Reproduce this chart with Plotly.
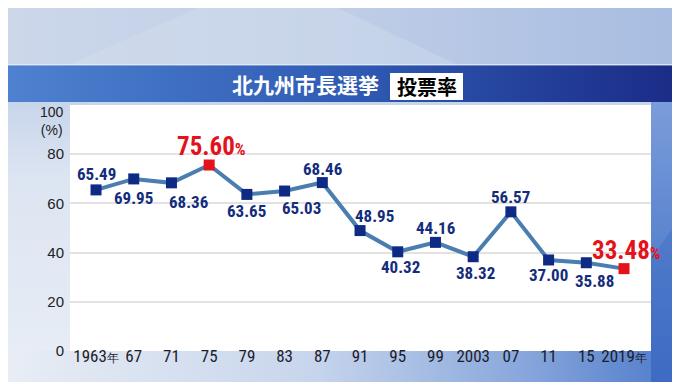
import base64
import plotly.graph_objects as go

# ---- data ----
years = [1963, 1967, 1971, 1975, 1979, 1983, 1987, 1991, 1995, 1999, 2003, 2007, 2011, 2015, 2019]
turnout = [65.49, 69.95, 68.36, 75.60, 63.65, 65.03, 68.46, 48.95, 40.32, 44.16, 38.32, 56.57, 37.00, 35.88, 33.48]
x_tick_labels = ["1963年", "67", "71", "75", "79", "83", "87", "91", "95", "99", "2003", "07", "11", "15", "2019年"]
y_ticks = [0, 20, 40, 60, 80]
highlight_years = [1975, 2019]
title_main = "北九州市長選挙"
title_box = "投票率"

# ---- styles ----
W, H = 680, 382
L, R, T, B = 62, 643, 97, 343
NAVY = "#0f2a85"
LABEL = "#142c7c"
RED = "#e3121b"
LINE = "#4a7db0"
NUM_FONT = "Liberation Sans Narrow, Roboto Condensed, Arial Narrow, Roboto, sans-serif"
# label offsets (dx, dy in px relative to marker)
label_offsets = [(0, -16), (0, 19), (17, 19), (2, -19), (0, 17), (17, 17), (0, -14),
                 (14, -15), (3, 15), (0, -14), (2, 16), (0, -15), (0, 15), (8, 18), (2, -18)]

def px(x):
    return (x - L) / (R - L)

def py(y):
    return (B - y) / (B - T)

svg = f'''<svg xmlns="http://www.w3.org/2000/svg" width="{W}" height="{H}" viewBox="0 0 {W} {H}">
<defs>
<linearGradient id="top" x1="0" y1="0" x2="1" y2="0">
<stop offset="0" stop-color="#ccd7ea"/><stop offset="0.5" stop-color="#bfcde7"/><stop offset="1" stop-color="#a7bce1"/></linearGradient>
<linearGradient id="left" x1="0" y1="0" x2="0" y2="1">
<stop offset="0" stop-color="#adc2e3"/><stop offset="0.45" stop-color="#dde5f2"/><stop offset="1" stop-color="#e9eef6"/></linearGradient>
<linearGradient id="bot" x1="0" y1="0" x2="1" y2="0">
<stop offset="0" stop-color="#e8edf5"/><stop offset="0.45" stop-color="#c7d5ec"/><stop offset="0.75" stop-color="#8aa8dc"/><stop offset="1" stop-color="#4a78c9"/></linearGradient>
<linearGradient id="right" x1="0" y1="0" x2="0" y2="1">
<stop offset="0" stop-color="#7b9cda"/><stop offset="0.5" stop-color="#5a84cf"/><stop offset="1" stop-color="#3f6cc4"/></linearGradient>
<linearGradient id="band" x1="0" y1="0" x2="1" y2="0">
<stop offset="0" stop-color="#4e82d0"/><stop offset="0.5" stop-color="#2f5bb4"/><stop offset="1" stop-color="#1a2a85"/></linearGradient>
</defs>
<rect x="0" y="0" width="{W}" height="{H}" fill="url(#left)"/>
<rect x="0" y="0" width="{W}" height="57" fill="url(#top)"/>
<polygon points="60,57 190,0 330,0 450,57" fill="#d8e1ef" opacity="0.35"/>
<rect x="0" y="{B}" width="{W}" height="{H-B}" fill="url(#bot)"/>
<rect x="{R}" y="94" width="{W-R}" height="{H-94}" fill="url(#right)"/>
<polygon points="{R},250 {W},200 {W},382 {R},382" fill="#3a66c0" opacity="0.35"/>
<rect x="0" y="57" width="{W}" height="37" fill="url(#band)"/>
<rect x="0" y="56" width="{W}" height="1.5" fill="#e6eefa" opacity="0.8"/>
<rect x="382" y="65" width="73" height="27" fill="#ffffff"/>
<rect x="{L}" y="{T}" width="{R-L}" height="{B-T}" fill="#ffffff"/>
</svg>'''
src = "data:image/svg+xml;base64," + base64.b64encode(svg.encode("utf-8")).decode("ascii")

colors = [RED if y in highlight_years else NAVY for y in years]

fig = go.Figure()
fig.add_trace(go.Scatter(
    x=years, y=turnout, mode="lines+markers",
    line=dict(color=LINE, width=4),
    marker=dict(symbol="square", size=11, color=colors, line=dict(width=0)),
    hoverinfo="skip", showlegend=False,
))

annotations = []
for yr, v, (dx, dy) in zip(years, turnout, label_offsets):
    if yr in highlight_years:
        txt = f"<b>{v:.2f}<span style='font-size:17px'>%</span></b>"
        font = dict(family=NUM_FONT, size=25, color=RED)
    else:
        txt = f"<b>{v:.2f}</b>"
        font = dict(family=NUM_FONT, size=17, color=LABEL)
    annotations.append(dict(x=yr, y=v, xref="x", yref="y", text=txt, showarrow=False,
                            xshift=dx, yshift=-dy, font=font, xanchor="center", yanchor="middle"))

# y-axis top label
annotations.append(dict(x=px(58), y=py(113), xref="paper", yref="paper", text="100<br>(%)", showarrow=False,
                        xanchor="right", yanchor="middle", align="center",
                        font=dict(family="Liberation Sans, Arial", size=14, color="#222")))
# title
annotations.append(dict(x=px(297), y=py(76), xref="paper", yref="paper", text=f"<b>{title_main}</b>", showarrow=False,
                        xanchor="center", yanchor="middle",
                        font=dict(family="Noto Sans CJK JP", size=21, color="white")))
annotations.append(dict(x=px(418.5), y=py(78.5), xref="paper", yref="paper", text=f"<b>{title_box}</b>", showarrow=False,
                        xanchor="center", yanchor="middle",
                        font=dict(family="Noto Sans CJK JP", size=20, color="black")))

x_ticktext = [t.replace("年", "<span style='font-size:12px'>年</span>") for t in x_tick_labels]

fig.update_layout(
    width=W, height=H,
    margin=dict(l=L, r=W - R, t=T, b=H - B, pad=0),
    paper_bgcolor="#dde5f1", plot_bgcolor="rgba(0,0,0,0)",
    images=[dict(source=src, xref="paper", yref="paper",
                 x=-L / (R - L), y=1 + T / (B - T),
                 sizex=W / (R - L), sizey=H / (B - T),
                 xanchor="left", yanchor="top", sizing="stretch", layer="below")],
    xaxis=dict(range=[1960.24, 2021.86], tickvals=years, ticktext=x_ticktext,
               showgrid=False, zeroline=False, showline=False, ticks="", ticklabelstandoff=-7,
               tickfont=dict(family=NUM_FONT, size=17, color="#1c1c2c"), fixedrange=True),
    yaxis=dict(range=[0, 100], tickvals=y_ticks, ticktext=[str(v) for v in y_ticks],
               showgrid=True, gridcolor="#e2e2e2", gridwidth=2, zeroline=False, showline=False,
               ticks="", ticklabelstandoff=5,
               tickfont=dict(family="Liberation Sans, Arial", size=15, color="#222"), fixedrange=True),
    annotations=annotations,
)

fig.write_html("out.html")
